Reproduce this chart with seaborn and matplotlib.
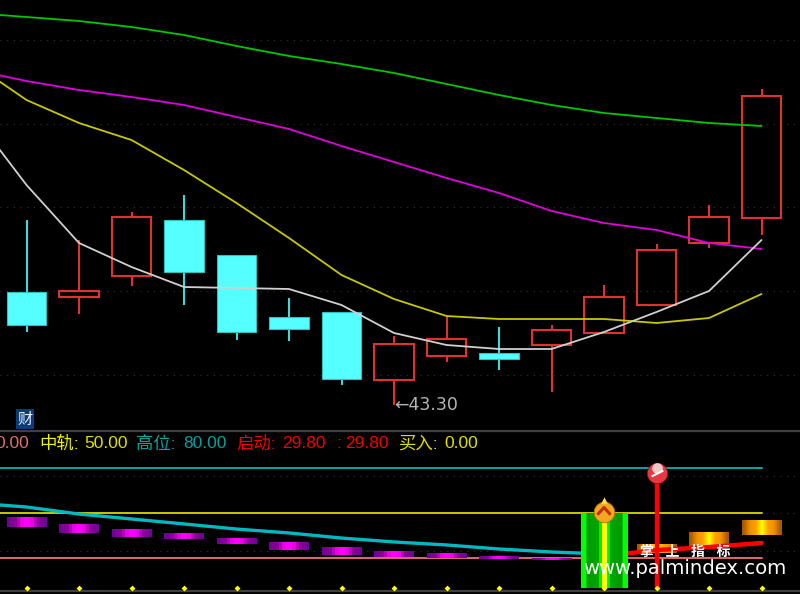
import numpy as np
import pandas as pd
import seaborn as sns
import matplotlib.pyplot as plt
from matplotlib.colors import LinearSegmentedColormap
from matplotlib.path import Path

# candles
opens = [48.95, 48.70, 49.75, 52.55, 50.80, 47.70, 47.95, 44.55, 45.75, 45.90, 46.30, 46.90, 48.30, 51.40, 52.65]
closes = [47.30, 49.00, 52.70, 49.95, 46.95, 47.10, 44.60, 46.35, 46.60, 45.60, 47.05, 48.70, 51.05, 52.70, 58.75]
highs = [52.55, 51.55, 52.95, 53.80, 50.80, 48.65, 47.95, 46.75, 47.75, 47.20, 47.30, 49.30, 51.35, 53.30, 59.10]
lows = [46.95, 47.85, 49.25, 48.30, 46.55, 46.50, 44.30, 43.30, 45.45, 45.05, 43.95, 46.90, 48.30, 51.15, 51.80]

# moving averages, first value is one bar off the left edge
ma_x = list(range(-1, 15))
ma_green = [62.90, 62.70, 62.50, 62.20, 61.80, 61.25, 60.75, 60.35, 59.90, 59.35, 58.80, 58.30, 57.90, 57.65, 57.40, 57.25]
ma_magenta = [60.05, 59.50, 59.05, 58.70, 58.30, 57.70, 57.10, 56.25, 55.45, 54.65, 53.90, 53.00, 52.40, 52.05, 51.40, 51.10]
ma_yellow = [60.35, 58.55, 57.40, 56.55, 55.05, 53.40, 51.65, 49.80, 48.60, 47.75, 47.60, 47.60, 47.60, 47.40, 47.65, 48.85]
ma_white = [57.75, 54.30, 51.40, 50.20, 49.20, 49.15, 49.10, 48.30, 46.90, 46.30, 46.10, 46.10, 46.95, 47.95, 49.00, 51.55]
main_grid = [44.8, 49.0, 53.2, 57.35, 61.55]

# lower indicator
levels = [20, 50, 80]
level_colors = ['#e06a6a', '#c8c800', '#00a8a8']
sub_grid = [25, 50, 75]
cyan_x = list(range(-1, 12))
cyan_vals = [56.7, 54.0, 49.3, 46.0, 42.7, 39.3, 36.7, 33.3, 30.7, 28.7, 26.0, 24.0, 22.7]
red_x = [11, 12, 13, 14]
red_vals = [21.3, 25.3, 27.3, 30.0]
purple_top = [47.3, 42.7, 38.7, 36.7, 33.3, 30.0, 27.3, 24.7, 22.7, 21.3, 20.0]
purple_bot = [40.7, 36.7, 34.0, 32.7, 29.3, 25.3, 22.0, 20.7, 20.0, 19.3, 18.7]
orange_x = [12, 13, 14]
orange_top = [29.3, 37.3, 44.7]
orange_bot = [23.3, 28.0, 35.3]
signal_bar = 11
signal_top = 50
stem_bar = 12
stem_top = 76.7
buy_vals = [0] * 15

legend_labels = ['0.00', '中轨:', '50.00', '高位:', '80.00', '启动:', '29.80', ':', '29.80', '买入:', '0.00']
legend_x = [-5, 39, 84, 136, 183, 236, 282, 336, 345, 398, 444]
legend_colors = ['#e07070', '#f0f000', '#e0e000', '#00a8a8', '#00a0a0', '#f00000', '#f00000', '#f00000', '#f00000', '#e0e000', '#e0e000']

sns.set_theme(style='dark', rc={'axes.facecolor': 'black', 'figure.facecolor': 'black'})
plt.rcParams['font.family'] = ['Liberation Sans', 'Noto Sans CJK SC', 'DejaVu Sans']

fig = plt.figure(figsize=(8, 5.94), dpi=100)
ax = fig.add_axes([0, 163 / 594, 1, 431 / 594])
sub = fig.add_axes([0, 3 / 594, 1, 160 / 594])
xlim = (-0.505, 14.733)

# main panel
for g in main_grid:
    ax.axhline(g, color='#333333', lw=0.8, ls=(0, (1, 5)), zorder=1)

df = pd.DataFrame({'x': ma_x, 'green': ma_green, 'magenta': ma_magenta, 'yellow': ma_yellow, 'white': ma_white})
line_colors = {'green': '#00c800', 'magenta': '#e000e0', 'yellow': '#c8c800', 'white': '#d0d0d0'}
for name, c in line_colors.items():
    sns.lineplot(data=df, x='x', y=name, color=c, lw=1.3, ax=ax, zorder=4)

for i in range(len(opens)):
    up = closes[i] >= opens[i]
    top, bot = max(opens[i], closes[i]), min(opens[i], closes[i])
    if up:
        ax.vlines(i, top, highs[i], color='#e03030', lw=1.5, zorder=3)
        ax.vlines(i, lows[i], bot, color='#e03030', lw=1.5, zorder=3)
        ax.bar(i, top - bot, bottom=bot, width=0.755, facecolor='none', edgecolor='#e03030', lw=1.5, zorder=3)
    else:
        ax.vlines(i, lows[i], highs[i], color='#40d8d8', lw=1.5, zorder=2)
        ax.bar(i, top - bot, bottom=bot, width=0.76, color='#55ffff', edgecolor='#30c0c0', lw=0.8, zorder=3)

ax.set_xlim(xlim)
ax.set_ylim(42.0, 63.55)
ax.text(7, lows[7], '←' + f'{min(lows):.2f}', color='#b4b4b4', fontsize=12.5, ha='left', va='center',
        family=['DejaVu Sans'], zorder=5, transform=ax.transData)
ax.text(-0.03, 42.6, '财', color='#e8f0ff', fontsize=11, ha='center', va='center',
        family=['Noto Sans CJK SC'], bbox=dict(facecolor='#0c3c78', edgecolor='none', pad=1.2), zorder=5)

# lower panel
for g in sub_grid:
    sub.axhline(g, color='#333333', lw=0.8, ls=(0, (1, 5)), zorder=1)
for lv, c in zip(levels, level_colors):
    sub.plot([-1, 14], [lv, lv], color=c, lw=1.4, zorder=2)

purple = LinearSegmentedColormap.from_list('purple', ['#700098', '#900098', '#ff00ff', '#ff00ff', '#900098', '#700098'])
orange = LinearSegmentedColormap.from_list('orange', ['#a85c00', '#f09000', '#ffa000', '#ffff00', '#ffa000', '#f09000', '#a85c00'])
green = LinearSegmentedColormap.from_list('green', [
    (0, '#00ff00'), (0.1, '#00ff00'), (0.11, '#009800'), (0.37, '#00a800'), (0.38, '#00f000'), (0.44, '#00f000'),
    (0.45, '#ffff00'), (0.55, '#ffff00'), (0.56, '#00f000'), (0.62, '#00f000'), (0.63, '#00a800'), (0.89, '#009800'),
    (0.9, '#00ff00'), (1, '#00ff00')], N=256)
grad = np.linspace(0, 1, 12).reshape(1, -1)

for i, (t, b) in enumerate(zip(purple_top, purple_bot)):
    sub.imshow(grad, cmap=purple, aspect='auto', extent=(i - 0.38, i + 0.38, b, t), zorder=3, interpolation='nearest')
for i, t, b in zip(orange_x, orange_top, orange_bot):
    sub.imshow(grad, cmap=orange, aspect='auto', extent=(i - 0.38, i + 0.38, b, t), zorder=3, interpolation='bilinear')

cyan_df = pd.DataFrame({'x': cyan_x, 'v': cyan_vals})
red_df = pd.DataFrame({'x': red_x, 'v': red_vals})
sns.lineplot(data=cyan_df, x='x', y='v', color='#00b8c0', lw=2.4, ax=sub, zorder=4)
sns.lineplot(data=red_df, x='x', y='v', color='#ff0000', lw=3.2, ax=sub, zorder=4)

sub.imshow(np.linspace(0, 1, 47).reshape(1, -1), cmap=green, aspect='auto',
           extent=(signal_bar - 0.447, signal_bar + 0.447, 0, signal_top), zorder=5, interpolation='nearest')
sub.vlines(stem_bar, 0, stem_top, color='#ff0000', lw=3.2, zorder=5)

buy_df = pd.DataFrame({'x': range(15), 'v': buy_vals})
sns.scatterplot(data=buy_df, x='x', y='v', color='#ffff00', marker='D', s=9, linewidth=0, ax=sub, zorder=6, clip_on=False)

# signal icons
sub.scatter([stem_bar], [stem_top], s=215, color='#e83840', edgecolor='#801010', lw=0.5, zorder=7)
sub.scatter([stem_bar], [stem_top + 3.5], s=60, color='#f4c8c8', marker='o', linewidth=0, zorder=7)
chev_ball = Path([(-1, -0.5), (1, 0.5)])
sub.scatter([stem_bar], [stem_top], s=70, marker=chev_ball, color='white', lw=1.5, zorder=8)
sub.scatter([signal_bar], [signal_top + 1], s=220, color='#f4a820', edgecolor='#b07000', lw=0.6, zorder=7)
sub.scatter([signal_bar], [signal_top + 8.5], s=22, marker='^', color='#ffe040', linewidth=0, zorder=7)
chevron = Path([(-1, -0.6), (0, 0.5), (1, -0.6)])
sub.scatter([signal_bar], [signal_top + 1.5], s=90, marker=chevron, facecolor='none', edgecolor='#c03010', lw=2.2, zorder=8)

sub.set_xlim(xlim)
sub.set_ylim(-2, 104.67)

for a in (ax, sub):
    a.set_xticks([])
    a.set_yticks([])
    a.set_xlabel('')
    a.set_ylabel('')
    a.grid(False)
    sns.despine(ax=a, left=True, bottom=True)
sub.axhline(104.67, color='#404040', lw=1.6, clip_on=False)
sub.axhline(-2, color='#404040', lw=1.6, clip_on=False)

for lab, x, c in zip(legend_labels, legend_x, legend_colors):
    fig.text(x / 800, 1 - 444 / 594, lab, color=c, fontsize=12.5, ha='left', va='center')

# watermark
fig.text(685 / 800, 1 - 552 / 594, '掌   上   指   标', color='white', fontsize=10, ha='center', va='center', fontweight='bold', zorder=10)
fig.text(685 / 800, 1 - 569 / 594, 'www.palmindex.com', color='white', fontsize=14.1, ha='center', va='center',
         family=['DejaVu Sans'], zorder=10)

fig.savefig('out.png', dpi=100, facecolor='black')
